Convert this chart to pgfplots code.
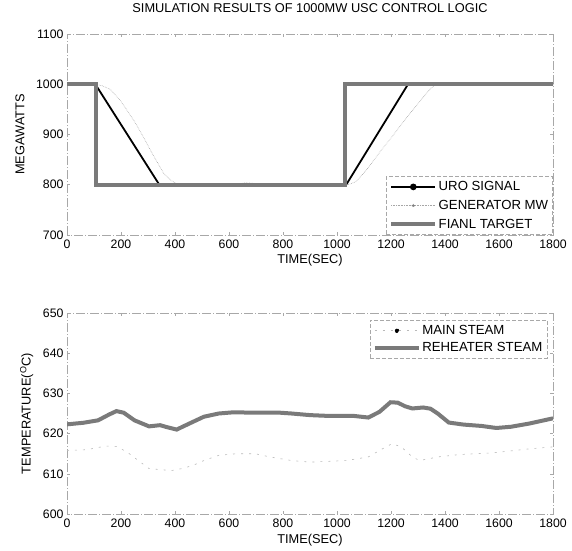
\documentclass[border=0pt]{standalone}
\usepackage{fontspec}
\setmainfont{Liberation Sans}
\usepackage{pgfplots}
\pgfplotsset{compat=1.18}
\definecolor{thickgray}{HTML}{7A7A7A}
\definecolor{framegray}{HTML}{A8A8A8}
\pgfplotsset{
  common/.style={
    scale only axis, width=486pt, height=201pt,
    xmin=0, xmax=1800, xtick={0,200,...,1800},
    axis line style={framegray, line width=0.6pt, dash pattern=on 9pt off 2pt on 1pt off 2pt},
    tick style={framegray, line width=0.6pt},
    major tick length=3pt,
    tick label style={font=\fontsize{12.3}{14}\selectfont},
    xticklabel style={yshift=-1pt},
    label style={font=\fontsize{12.8}{14}\selectfont},
    /pgf/number format/assume math mode=true,
    /pgf/number format/1000 sep={},
    legend cell align=left,
    legend style={draw=framegray, line width=0.6pt, dash pattern=on 4pt off 2pt, fill=white,
      font=\fontsize{13.2}{15}\selectfont, row sep=2.5pt, inner sep=2pt,
      nodes={inner xsep=1.5pt}},
  },
}
\begin{document}
\begin{tikzpicture}[x=1pt,y=1pt]
\useasboundingbox (0,0) rectangle (572,550);
% ---------- top axis ----------
\begin{axis}[common,
  at={(67pt,315pt)}, anchor=south west,
  ymin=700, ymax=1100, ytick={700,800,...,1100},
  title={SIMULATION RESULTS OF 1000MW USC CONTROL LOGIC},
  title style={at={(axis description cs:0.5,1.10)}, anchor=center, font=\fontsize{12.8}{14}\selectfont},
  xlabel={TIME(SEC)},
  xlabel style={at={(axis description cs:0.5,-0.125)}, anchor=center},
  ylabel={MEGAWATTS},
  ylabel style={at={(axis description cs:-0.097,0.5)}, anchor=center},
  legend style={at={(axis description cs:1,0)}, anchor=south east, row sep=4pt, inner sep=3pt},
]
\addplot[black, solid, line width=1.8pt,
  legend image code/.code={\draw[black, solid, line width=1.8pt] (0pt,0pt) -- (44pt,0pt); \fill[black] (22pt,0pt) circle (2.4pt);}]
  coordinates {(0,1000) (105,1000) (342,800) (1034,800) (1263,1000) (1800,1000)};
\addlegendentry{URO SIGNAL}
\addplot[gray!70, line width=0.6pt, densely dotted,
  legend image code/.code={\draw[gray!70, line width=0.6pt, densely dotted] (0pt,0pt) -- (44pt,0pt); \fill[gray] (22pt,0pt) circle (1.3pt);}]
  coordinates {(0,1000) (105,1000) (130,997) (160,990) (200,966) (250,926) (285,893) (320,858) (360,821) (387,808) (410,801) (430,800) (620,800) (660,804) (720,802) (760,800) (1040,800) (1070,806) (1110,830) (1160,866) (1210,900) (1260,935) (1310,968) (1347,992) (1370,1000) (1800,1000)};
\addlegendentry{GENERATOR MW}
\addplot[thickgray, solid, line width=3.8pt,
  legend image code/.code={\draw[thickgray, solid, line width=3.8pt] (0pt,0pt) -- (44pt,0pt);}]
  coordinates {(0,1000) (108,1000) (108,800) (1030,800) (1030,1000) (1800,1000)};
\addlegendentry{FIANL TARGET}
\end{axis}
% ---------- bottom axis ----------
\begin{axis}[common,
  at={(67pt,36pt)}, anchor=south west,
  ymin=600, ymax=650, ytick={600,610,...,650},
  xlabel={TIME(SEC)},
  xlabel style={at={(axis description cs:0.5,-0.13)}, anchor=center},
  ylabel={TEMPERATURE(\textsuperscript{O}C)},
  ylabel style={at={(axis description cs:-0.083,0.5)}, anchor=center},
  legend style={at={(axis description cs:0.988,0.965)}, anchor=north east, inner sep=3pt},
]
\addplot[gray!55, line width=0.6pt, dash pattern=on 2pt off 6pt,
  legend image code/.code={\draw[gray!55, line width=0.6pt, dash pattern=on 2pt off 6pt] (0pt,0pt) -- (44pt,0pt); \fill[black] (22pt,0pt) circle (2pt);}]
  coordinates {(0,615.8) (74,616) (142,616.9) (183,616.8) (223,615.4) (264,613.3) (304,611.3) (386,610.8) (426,611.3) (467,612.1) (507,613.3) (562,614.6) (629,615) (697,615) (751,614.2) (832,613.3) (900,612.9) (1035,613.3) (1116,614.2) (1157,615.8) (1204,617.5) (1238,616.7) (1279,614.2) (1306,613.3) (1374,614.2) (1455,614.8) (1576,615.2) (1711,616.2) (1800,616.7)};
\addlegendentry{MAIN STEAM}
\addplot[thickgray, solid, line width=4pt,
  legend image code/.code={\draw[thickgray, solid, line width=4pt] (0pt,0pt) -- (44pt,0pt);}]
  coordinates {(0,622.3) (61,622.7) (115,623.3) (156,624.75) (183,625.6) (210,625.2) (250,623.3) (304,621.8) (345,622.1) (365,621.7) (406,621) (453,622.5) (507,624.2) (562,625) (616,625.3) (697,625.2) (778,625.25) (832,625) (900,624.6) (968,624.4) (1062,624.4) (1116,624) (1157,625.4) (1198,627.8) (1225,627.7) (1252,626.8) (1279,626.25) (1319,626.5) (1346,626.2) (1373,625) (1414,622.75) (1468,622.25) (1536,621.9) (1590,621.4) (1644,621.7) (1712,622.5) (1800,623.8)};
\addlegendentry{REHEATER STEAM}
\end{axis}
\end{tikzpicture}
\end{document}
